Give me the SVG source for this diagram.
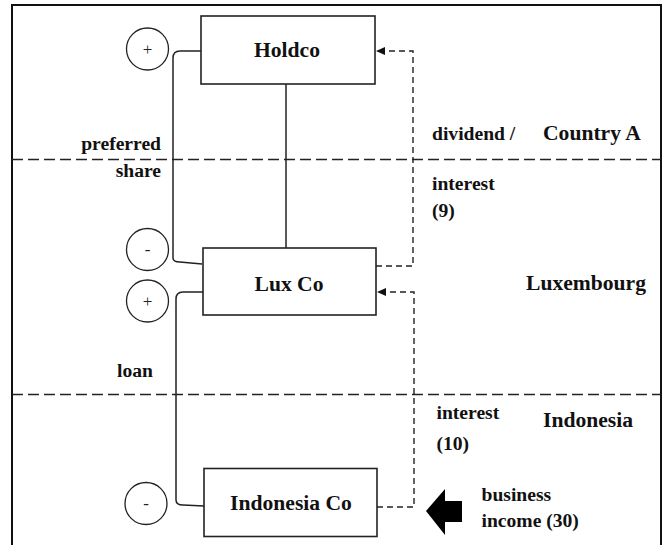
<svg xmlns="http://www.w3.org/2000/svg" width="670" height="545" viewBox="0 0 670 545">
<style>
.box{fill:#fff;stroke:#222;stroke-width:1.6}
.lbl{font-family:"Liberation Serif","Times New Roman",serif;font-weight:bold;fill:#111}
.big{font-size:21.6px}
.sm{font-size:19.6px}
.circ{fill:none;stroke:#222;stroke-width:1.3}
.sign{font-family:"Liberation Serif","Times New Roman",serif;font-size:17px;fill:#222}
.line{fill:none;stroke:#222;stroke-width:1.5}
.flow{fill:none;stroke:#222;stroke-width:1.4;stroke-dasharray:6 4}
.region{fill:none;stroke:#222;stroke-width:1.5;stroke-dasharray:11 5}
</style>
<defs>
<marker id="ah" markerWidth="10" markerHeight="10" refX="10" refY="5" orient="auto" markerUnits="userSpaceOnUse">
<path d="M1,1 L10,5 L1,9 Z" fill="#111"/>
</marker>
</defs>
<rect width="670" height="545" fill="#fff"/>
<g id="frame">
<path d="M12,546 L12,5 L661,5 L661,546" fill="none" stroke="#111" stroke-width="2"/>
<line class="region" x1="12" y1="159.5" x2="661" y2="159.5"/>
<line class="region" x1="12" y1="394.5" x2="661" y2="394.5"/>
</g>
<g id="connectors">
<path class="line" d="M201,51 L180,51 Q173,51 173,58 L173,258 Q173,262 180,262 L202,264"/>
<line class="line" x1="286" y1="84" x2="286" y2="248"/>
<path class="line" d="M203,292 L183,292 Q176,292 176,299 L176,500 Q176,505 183,505 L204,506"/>
<path class="flow" d="M376,266 L413,266 L413,51 L376,51" marker-end="url(#ah)"/>
<path class="flow" d="M377,507 L414,507 L414,292 L377,292" marker-end="url(#ah)"/>
<polygon points="426,511 445,489 445,501 462,501 462,522 445,522 445,535" fill="#000"/>
</g>
<g id="holdco">
<rect class="box" x="201" y="16" width="174" height="68"/>
<text class="lbl big" x="287" y="57" text-anchor="middle">Holdco</text>
</g>
<g id="luxco">
<rect class="box" x="203" y="248" width="173" height="67"/>
<text class="lbl big" x="289" y="291" text-anchor="middle">Lux Co</text>
</g>
<g id="indonesiaco">
<rect class="box" x="204" y="468.5" width="173" height="68"/>
<text class="lbl big" x="291" y="510" text-anchor="middle">Indonesia Co</text>
</g>
<g id="signs">
<circle class="circ" cx="147.5" cy="49" r="21"/>
<text class="sign" x="147.5" y="55" text-anchor="middle">+</text>
<circle class="circ" cx="147.5" cy="249.5" r="21"/>
<text class="sign" x="147.5" y="255" text-anchor="middle">-</text>
<circle class="circ" cx="147.5" cy="301" r="21"/>
<text class="sign" x="147.5" y="307" text-anchor="middle">+</text>
<circle class="circ" cx="146" cy="503.5" r="21"/>
<text class="sign" x="146" y="509" text-anchor="middle">-</text>
</g>
<g id="labels">
<text class="lbl sm" x="161" y="150" text-anchor="end">preferred</text>
<text class="lbl sm" x="161" y="176.5" text-anchor="end">share</text>
<text class="lbl sm" x="432" y="140">dividend /</text>
<text class="lbl big" x="543" y="139.5">Country A</text>
<text class="lbl sm" x="432" y="190">interest</text>
<text class="lbl sm" x="432" y="217">(9)</text>
<text class="lbl big" x="526" y="289.5">Luxembourg</text>
<text class="lbl sm" x="117" y="376.5">loan</text>
<text class="lbl sm" x="436.5" y="418.5">interest</text>
<text class="lbl sm" x="436.5" y="450">(10)</text>
<text class="lbl big" x="543" y="426.5">Indonesia</text>
<text class="lbl sm" x="481.5" y="500.5">business</text>
<text class="lbl sm" x="481.5" y="526.5">income (30)</text>
</g>
</svg>
